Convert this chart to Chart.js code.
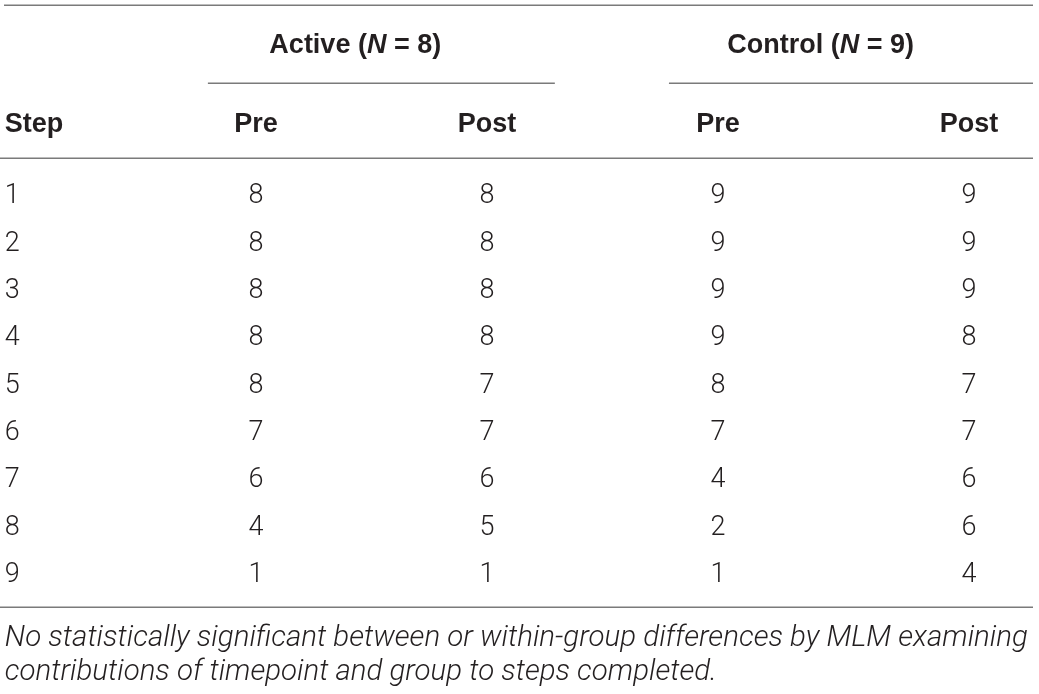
<!DOCTYPE html>
<html>
<head>
<meta charset="utf-8">
<title>Steps completed by group</title>
<script src="https://cdn.jsdelivr.net/npm/chart.js@4/dist/chart.umd.min.js"></script>
<style>
  html, body { margin: 0; padding: 0; background: #fff; }
  #wrap { width: 1039px; height: 694px; }
</style>
</head>
<body>
<div id="wrap"><canvas id="table" width="1039" height="694"></canvas></div>
<script>
// table data
const steps = [1, 2, 3, 4, 5, 6, 7, 8, 9];
const activePre = [8, 8, 8, 8, 8, 7, 6, 4, 1];
const activePost = [8, 8, 8, 8, 7, 7, 6, 5, 1];
const controlPre = [9, 9, 9, 9, 8, 7, 4, 2, 1];
const controlPost = [9, 9, 9, 8, 7, 7, 6, 6, 4];

const groups = [
  { name: "Active", n: 8 },
  { name: "Control", n: 9 }
];
const subHeaders = ["Pre", "Post", "Pre", "Post"];
const footnote = [
  "No statistically significant between or within-group differences by MLM examining",
  "contributions of timepoint and group to steps completed."
];

// layout (x in column units, y in row units)
const colPos = [-0.087, 1, 2, 3, 4.087];
const groupSpan = [[0.792, 2.294], [2.788, 4.364]];
const groupTitleX = [1.43, 3.445];
const rowY = { topRule: -3.0, title: -2.19, underline: -1.35, header: -0.5, headRule: 0.24, bottomRule: 9.73, foot1: 10.35, foot2: 11.08 };

const INK = "#231f20";
const RULE = "#7a7a7a";
const BOLD = "bold 27px 'Liberation Sans', Arial, sans-serif";
const BOLD_IT = "italic bold 27px 'Liberation Sans', Arial, sans-serif";
const LIGHT = "300 27px Roboto, 'Liberation Sans', sans-serif";
const FOOT = "italic 300 29px Roboto, 'Liberation Sans', sans-serif";

const makeCol = (col, values) => steps.map((s, i) => ({ x: colPos[col], y: s, v: values[i] }));

const tablePlugin = {
  id: "tableText",
  afterDatasetsDraw(chart) {
    const { ctx, scales: { x, y } } = chart;
    const X = v => x.getPixelForValue(v);
    const Y = v => y.getPixelForValue(v);
    const base = 9.5; // half cap height -> alphabetic baseline

    ctx.save();
    // rules
    ctx.strokeStyle = RULE;
    ctx.lineWidth = 1.5;
    const hline = (x0, x1, yv) => {
      ctx.beginPath();
      ctx.moveTo(x0, Math.round(Y(yv)) + 0.25);
      ctx.lineTo(x1, Math.round(Y(yv)) + 0.25);
      ctx.stroke();
    };
    hline(4, 1033, rowY.topRule);
    groupSpan.forEach(s => hline(X(s[0]), X(s[1]), rowY.underline));
    hline(0, 1033, rowY.headRule);
    hline(0, 1033, rowY.bottomRule);

    ctx.fillStyle = INK;
    ctx.textBaseline = "alphabetic";

    // group titles with italic N
    groups.forEach((g, i) => {
      const parts = [[g.name + " (", BOLD], ["N", BOLD_IT], [" = " + g.n + ")", BOLD]];
      let w = 0;
      parts.forEach(p => { ctx.font = p[1]; w += ctx.measureText(p[0]).width; });
      let cx = X(groupTitleX[i]) - w / 2;
      ctx.textAlign = "left";
      parts.forEach(p => {
        ctx.font = p[1];
        ctx.fillText(p[0], cx, Y(rowY.title) + base);
        cx += ctx.measureText(p[0]).width;
      });
    });

    // column headers
    ctx.font = BOLD;
    ctx.textAlign = "left";
    ctx.fillText("Step", X(colPos[0]), Y(rowY.header) + base);
    ctx.textAlign = "center";
    subHeaders.forEach((h, i) => ctx.fillText(h, X(colPos[i + 1]), Y(rowY.header) + base));

    // cells from dataset elements
    ctx.font = LIGHT;
    chart.data.datasets.forEach((ds, di) => {
      const meta = chart.getDatasetMeta(di);
      ctx.textAlign = di === 0 ? "left" : "center";
      meta.data.forEach((el, i) => {
        ctx.fillText(String(ds.data[i].v), el.x, el.y + base);
      });
    });

    // footnote, squeezed to the printed line widths
    ctx.font = FOOT;
    ctx.textAlign = "left";
    const fw = [1023, 712];
    footnote.forEach((t, i) => {
      const yv = i === 0 ? rowY.foot1 : rowY.foot2;
      const nat = ctx.measureText(t).width;
      ctx.save();
      ctx.translate(X(colPos[0]), Y(yv) + base);
      ctx.scale(fw[i] / nat, 1);
      ctx.fillText(t, 0, 0);
      ctx.restore();
    });
    ctx.restore();
  }
};

new Chart(document.getElementById("table"), {
  type: "scatter",
  data: {
    datasets: [
      { label: "Step", data: makeCol(0, steps) },
      { label: "Active Pre", data: makeCol(1, activePre) },
      { label: "Active Post", data: makeCol(2, activePost) },
      { label: "Control Pre", data: makeCol(3, controlPre) },
      { label: "Control Post", data: makeCol(4, controlPost) }
    ]
  },
  options: {
    responsive: false,
    animation: false,
    layout: { padding: 0 },
    elements: { point: { radius: 0, hoverRadius: 0 } },
    plugins: { legend: { display: false }, tooltip: { enabled: false } },
    scales: {
      x: { type: "linear", display: false, min: -0.108, max: 4.39 },
      y: { type: "linear", display: false, reverse: true, min: -3.10, max: 11.57 }
    }
  },
  plugins: [tablePlugin]
});
</script>
</body>
</html>
